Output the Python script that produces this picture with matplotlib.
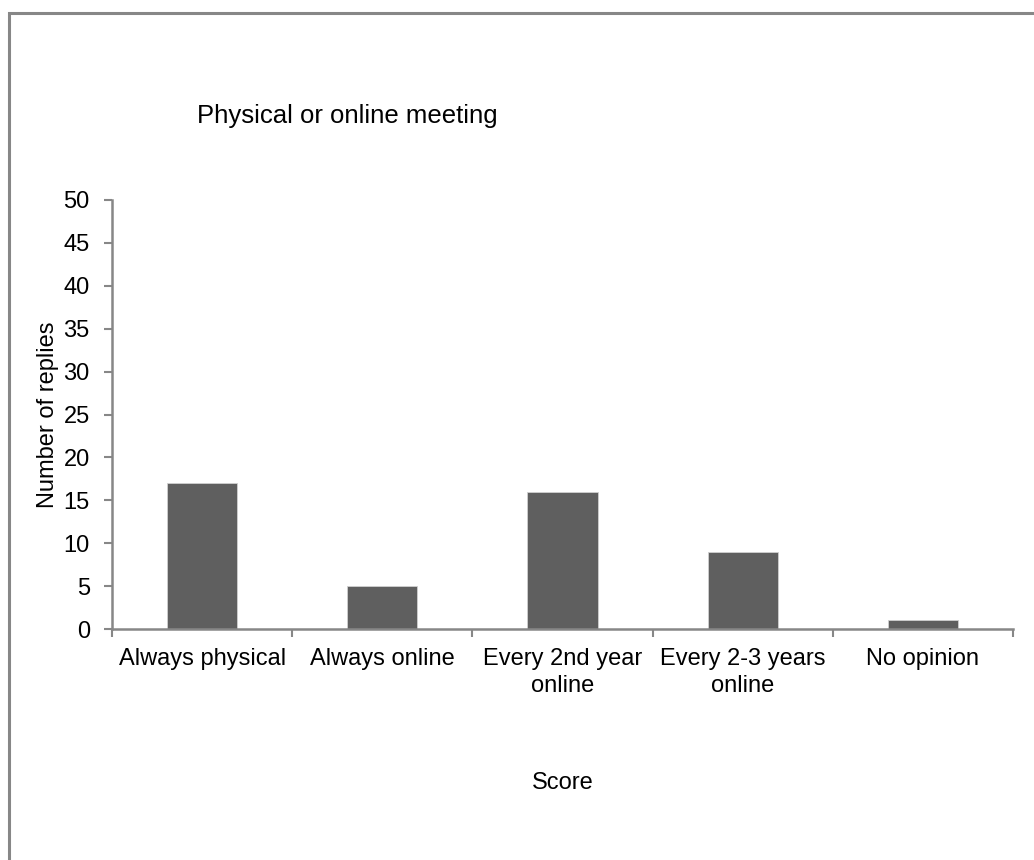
import matplotlib.pyplot as plt
from matplotlib.patches import Rectangle

categories = ["Always physical", "Always online", "Every 2nd year\nonline",
              "Every 2-3 years\nonline", "No opinion"]
replies = [17, 5, 16, 9, 1]
y_ticks = [0, 5, 10, 15, 20, 25, 30, 35, 40, 45, 50]

plt.rcParams['font.family'] = ['Liberation Sans', 'DejaVu Sans']
plt.rcParams['font.size'] = 17

axis_grey = '#878787'
bar_grey = '#5f5f5f'

fig = plt.figure(figsize=(10.34, 8.6), dpi=100)

# outer chart border
fig.patches.append(Rectangle((9 / 1034, -0.1), 1.2, 0.1 + 1 - 13 / 860,
                             transform=fig.transFigure, fill=False,
                             edgecolor=axis_grey, linewidth=2.2))

ax = fig.add_axes([112 / 1034, 1 - 629 / 860, 901 / 1034, 429 / 860])
x = list(range(len(categories)))
ax.bar(x, replies, width=0.39, color=bar_grey, edgecolor='#d0d0d0',
       linewidth=0.6, zorder=2)

ax.set_xlim(-0.5, len(categories) - 0.5)
ax.set_ylim(0, 50)
ax.set_yticks(y_ticks)

# category boundary ticks on the x axis
ax.set_xticks([i - 0.5 for i in range(len(categories) + 1)])
ax.set_xticklabels([])
ax.set_xticks(x, minor=True)
ax.set_xticklabels(categories, minor=True, linespacing=1.25)
ax.tick_params(axis='x', which='minor', length=0, pad=14)
ax.tick_params(axis='x', which='major', length=6, width=1.5,
               color=axis_grey, direction='out')
ax.tick_params(axis='y', length=6, width=1.5, color=axis_grey,
               direction='out', pad=10)

for side in ['top', 'right']:
    ax.spines[side].set_visible(False)
for side in ['left', 'bottom']:
    ax.spines[side].set_color(axis_grey)
    ax.spines[side].set_linewidth(1.8)

ax.set_ylabel("Number of replies")
ax.set_xlabel("Score")
ax.xaxis.set_label_coords(0.5, -0.333)
ax.yaxis.set_label_coords(-0.059, 0.5)

fig.text(197 / 1034, 1 - 123 / 860, "Physical or online meeting",
         ha='left', va='baseline', fontsize=18.5)

fig.savefig("out.png", dpi=100)
